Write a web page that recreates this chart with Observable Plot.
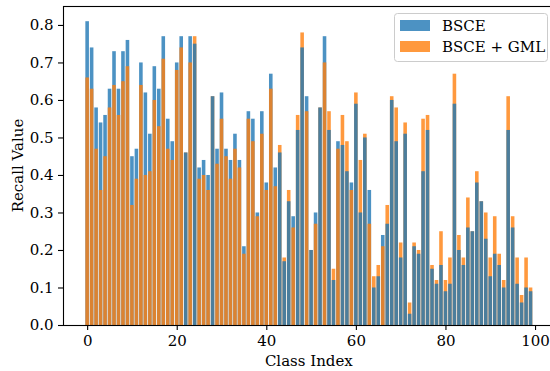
<!DOCTYPE html>
<html>
<head>
<meta charset="utf-8">
<script src="https://cdn.jsdelivr.net/npm/d3@7"></script>
<script src="https://cdn.jsdelivr.net/npm/@observablehq/plot@0.6"></script>
<style>
  html, body { margin: 0; padding: 0; background: #fff; }
  #chart { width: 550px; height: 371px; overflow: hidden; }
</style>
</head>
<body>
<div id="chart"></div>
<script>
// ---- data ----
const seriesNames = ["BSCE", "BSCE + GML"];
const seriesColors = ["#1f77b4", "#ff7f0e"];
const xTicks = [0, 20, 40, 60, 80, 100];
const yTicks = [0, 0.1, 0.2, 0.3, 0.4, 0.5, 0.6, 0.7, 0.8];

const bsce = [
  0.81, 0.74, 0.58, 0.54, 0.56, 0.63, 0.73, 0.63, 0.73, 0.76,
  0.45, 0.47, 0.70, 0.62, 0.51, 0.69, 0.63, 0.77, 0.55, 0.49,
  0.70, 0.77, 0.46, 0.77, 0.75, 0.42, 0.44, 0.40, 0.61, 0.47,
  0.62, 0.47, 0.44, 0.51, 0.44, 0.21, 0.57, 0.55, 0.30, 0.57,
  0.38, 0.67, 0.42, 0.46, 0.17, 0.33, 0.29, 0.52, 0.74, 0.61,
  0.20, 0.30, 0.58, 0.77, 0.52, 0.12, 0.49, 0.48, 0.41, 0.38,
  0.59, 0.30, 0.50, 0.36, 0.10, 0.13, 0.24, 0.27, 0.60, 0.49,
  0.18, 0.51, 0.03, 0.21, 0.19, 0.41, 0.52, 0.15, 0.11, 0.16,
  0.09, 0.11, 0.59, 0.20, 0.16, 0.26, 0.25, 0.38, 0.33, 0.23,
  0.13, 0.19, 0.16, 0.10, 0.52, 0.26, 0.11, 0.06, 0.10, 0.09
];
const bsceGml = [
  0.66, 0.63, 0.47, 0.36, 0.45, 0.58, 0.64, 0.56, 0.65, 0.69,
  0.32, 0.39, 0.64, 0.40, 0.41, 0.60, 0.53, 0.71, 0.47, 0.44,
  0.68, 0.74, 0.46, 0.70, 0.77, 0.39, 0.40, 0.36, 0.61, 0.43,
  0.55, 0.45, 0.39, 0.47, 0.42, 0.19, 0.55, 0.49, 0.29, 0.51,
  0.36, 0.63, 0.37, 0.48, 0.18, 0.36, 0.26, 0.56, 0.78, 0.57,
  0.20, 0.27, 0.58, 0.70, 0.57, 0.15, 0.47, 0.56, 0.49, 0.36,
  0.62, 0.44, 0.51, 0.27, 0.13, 0.16, 0.21, 0.32, 0.61, 0.58,
  0.22, 0.54, 0.06, 0.22, 0.20, 0.55, 0.56, 0.16, 0.12, 0.25,
  0.12, 0.18, 0.67, 0.24, 0.18, 0.34, 0.25, 0.41, 0.33, 0.30,
  0.18, 0.29, 0.19, 0.12, 0.61, 0.29, 0.18, 0.08, 0.18, 0.10
];

// ---- build tables: the taller bar is drawn behind, the shorter one in front ----
const back = [], front = [];
bsce.forEach((b, i) => {
  const o = bsceGml[i];
  if (o >= b) {
    back.push({i, v: o, s: seriesNames[1]});
    front.push({i, v: b, s: seriesNames[0]});
  } else {
    back.push({i, v: b, s: seriesNames[0]});
    front.push({i, v: o, s: seriesNames[1]});
  }
});

const n = bsce.length;
const xPad = (n - 1 + 0.8) * 0.05;
const yMax = d3.max([...bsce, ...bsceGml]) * 1.05;

// the figure is slightly wider than the 550px view; its right edge is cut off
const W = 555, H = 371;
const mL = 63, mR = 0.3, mT = 6, mB = 46;
const FONT = "'DejaVu Serif', serif";
const FS = "15px";

const barOpts = {
  x1: d => d.i - 0.4,
  x2: d => d.i + 0.4,
  y1: 0,
  y2: "v",
  fill: "s",
  fillOpacity: 0.8
};

const chart = Plot.plot({
  width: W,
  height: H,
  marginLeft: mL,
  marginRight: mR,
  marginTop: mT,
  marginBottom: mB,
  style: {fontFamily: FONT, fontSize: FS, color: "#000", background: "#fff", maxWidth: "none"},
  x: {type: "linear", domain: [-0.4 - xPad, n - 1 + 0.4 + xPad]},
  y: {domain: [0, yMax]},
  color: {domain: seriesNames, range: seriesColors},
  marks: [
    Plot.rectY(back, barOpts),
    Plot.rectY(front, barOpts),
    Plot.frame({stroke: "#000", strokeWidth: 1.1}),
    Plot.axisX({ticks: xTicks, tickSize: 5, tickPadding: 5, label: null, tickFormat: d3.format("d"), strokeWidth: 1.1}),
    Plot.axisY({ticks: yTicks, tickSize: 5, tickPadding: 5, label: null, tickFormat: d3.format(".1f"), strokeWidth: 1.1})
  ]
});

document.getElementById("chart").appendChild(chart);

// ---- axis titles and legend ----
const svg = d3.select(chart);
svg.append("text")
  .attr("x", (mL + W - mR) / 2).attr("y", 361)
  .attr("text-anchor", "middle").attr("dominant-baseline", "central")
  .attr("font-family", FONT).attr("font-size", FS).attr("fill", "#000")
  .text("Class Index");
svg.append("text")
  .attr("transform", `translate(18,${(mT + H - mB) / 2}) rotate(-90)`)
  .attr("text-anchor", "middle").attr("dominant-baseline", "central")
  .attr("font-family", FONT).attr("font-size", FS).attr("fill", "#000")
  .text("Recall Value");

const lg = svg.append("g");
lg.append("rect")
  .attr("x", 394.5).attr("y", 13.5).attr("width", 153).attr("height", 48)
  .attr("rx", 3).attr("ry", 3)
  .style("fill", "#fff").style("fill-opacity", 0.8)
  .style("stroke", "#cccccc").style("stroke-width", "1px");
seriesNames.forEach((name, k) => {
  const cy = 25.5 + k * 21;
  lg.append("rect")
    .attr("x", 400).attr("y", cy - 5.5).attr("width", 30).attr("height", 11)
    .style("fill", seriesColors[k]).style("fill-opacity", 0.8);
  lg.append("text")
    .attr("x", 442).attr("y", cy)
    .attr("text-anchor", "start")
    .attr("dominant-baseline", "central")
    .attr("font-family", FONT).attr("font-size", FS).attr("fill", "#000")
    .text(name);
});
</script>
</body>
</html>
